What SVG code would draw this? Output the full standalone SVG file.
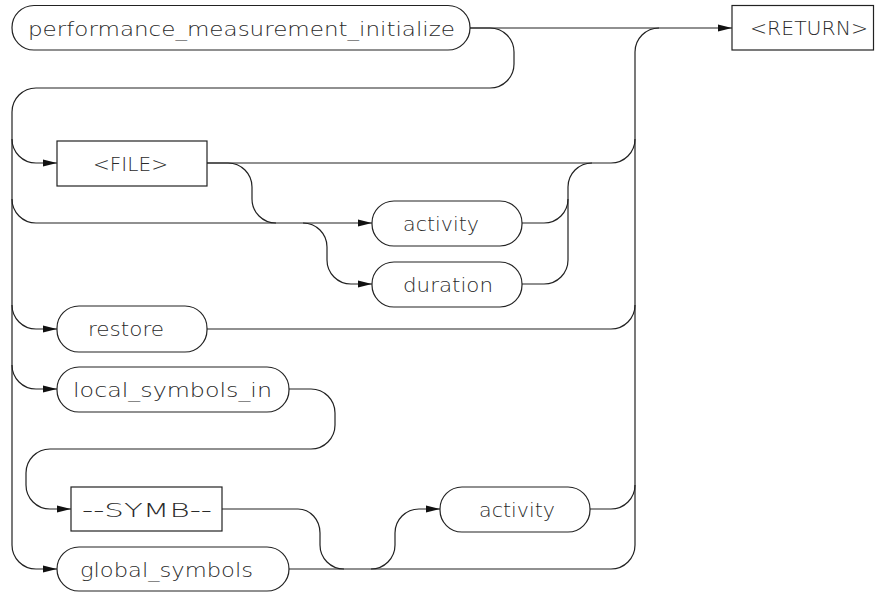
<svg xmlns="http://www.w3.org/2000/svg" width="875" height="592" viewBox="0 0 875 592">
<defs>
<marker id="arr" viewBox="0 0 14 8" refX="14" refY="4" markerWidth="14" markerHeight="8" markerUnits="userSpaceOnUse" orient="auto">
<path d="M0,0.5 L14,4 L0,7.5 Z" fill="#111"/>
</marker>
<style>
.n{fill:#fff;stroke:#222;stroke-width:1.2}
.t{font-family:"DejaVu Sans","Liberation Sans",sans-serif;font-size:20px;font-weight:300;fill:#2a2a2a}
.c{fill:none;stroke:#222;stroke-width:1.2}
</style>
</defs>
<rect width="875" height="592" fill="#fff"/>
<g id="connectors">
<path class="c" d="M470,28 H732" marker-end="url(#arr)"/>
<path class="c" d="M470,28 H490 A24,24 0 0 1 514,52 V64 A24,24 0 0 1 490,88 H36 A24,24 0 0 0 12,112 V545 A24,24 0 0 0 36,569 H57" marker-end="url(#arr)"/>
<path class="c" d="M12,139 A24,24 0 0 0 36,163 H57" marker-end="url(#arr)"/>
<path class="c" d="M12,199 A24,24 0 0 0 36,223 H372" marker-end="url(#arr)"/>
<path class="c" d="M12,305 A24,24 0 0 0 36,329 H57" marker-end="url(#arr)"/>
<path class="c" d="M12,365 A24,24 0 0 0 36,389 H57" marker-end="url(#arr)"/>
<path class="c" d="M207,163 H611 A24,24 0 0 0 635,139"/>
<path class="c" d="M635,545 V52 A24,24 0 0 1 659,28"/>
<path class="c" d="M207,163 H228 A24,24 0 0 1 252,187 V199 A24,24 0 0 0 276,223"/>
<path class="c" d="M303,223 A24,24 0 0 1 327,247 V260 A24,24 0 0 0 351,284 H372" marker-end="url(#arr)"/>
<path class="c" d="M522,223 H544 A24,24 0 0 0 568,199 V187 A24,24 0 0 1 592,163"/>
<path class="c" d="M522,284 H544 A24,24 0 0 0 568,260 V199"/>
<path class="c" d="M207,329 H611 A24,24 0 0 0 635,305"/>
<path class="c" d="M289,389 H311 A24,24 0 0 1 335,413 V425 A24,24 0 0 1 311,449 H50 A24,24 0 0 0 26,473 V485 A24,24 0 0 0 50,509 H71" marker-end="url(#arr)"/>
<path class="c" d="M222,509 H298 A22,24 0 0 1 320,533 V545 A24,24 0 0 0 344,569"/>
<path class="c" d="M289,569 H611 A24,24 0 0 0 635,545"/>
<path class="c" d="M371,569 A24,24 0 0 0 395,545 V533 A24,24 0 0 1 419,509 H440" marker-end="url(#arr)"/>
<path class="c" d="M590,509 H611 A24,24 0 0 0 635,485"/>
</g>
<g id="n_init"><rect class="n" x="12" y="5.5" width="458" height="44.5" rx="22"/><text class="t" x="28" y="36" textLength="427" lengthAdjust="spacingAndGlyphs">performance_measurement_initialize</text></g>
<g id="n_return"><rect class="n" x="732" y="5.5" width="141.5" height="44.5"/><text class="t" x="750" y="35" textLength="118" lengthAdjust="spacingAndGlyphs">&lt;RETURN&gt;</text></g>
<g id="n_file"><rect class="n" x="57" y="141" width="150" height="45"/><text class="t" x="93" y="171" textLength="75" lengthAdjust="spacingAndGlyphs">&lt;FILE&gt;</text></g>
<g id="n_activity1"><rect class="n" x="372" y="201" width="150" height="45" rx="22"/><text class="t" x="403" y="231" textLength="76" lengthAdjust="spacingAndGlyphs">activity</text></g>
<g id="n_duration"><rect class="n" x="372" y="262" width="150" height="45" rx="22"/><text class="t" x="403" y="292" textLength="90" lengthAdjust="spacingAndGlyphs">duration</text></g>
<g id="n_restore"><rect class="n" x="57" y="306" width="150" height="46" rx="22"/><text class="t" x="88" y="336" textLength="76" lengthAdjust="spacingAndGlyphs">restore</text></g>
<g id="n_local"><rect class="n" x="57" y="367" width="232" height="45" rx="22"/><text class="t" x="73" y="397" textLength="199" lengthAdjust="spacingAndGlyphs">local_symbols_in</text></g>
<g id="n_symb"><rect class="n" x="71" y="487" width="151" height="44"/><text class="t" x="82" y="517" textLength="130" lengthAdjust="spacingAndGlyphs">--SYMB--</text></g>
<g id="n_global"><rect class="n" x="57" y="547" width="232" height="44" rx="22"/><text class="t" x="80" y="577" textLength="173" lengthAdjust="spacingAndGlyphs">global_symbols</text></g>
<g id="n_activity2"><rect class="n" x="440" y="487" width="150" height="45" rx="22"/><text class="t" x="479" y="517" textLength="76" lengthAdjust="spacingAndGlyphs">activity</text></g>
</svg>
